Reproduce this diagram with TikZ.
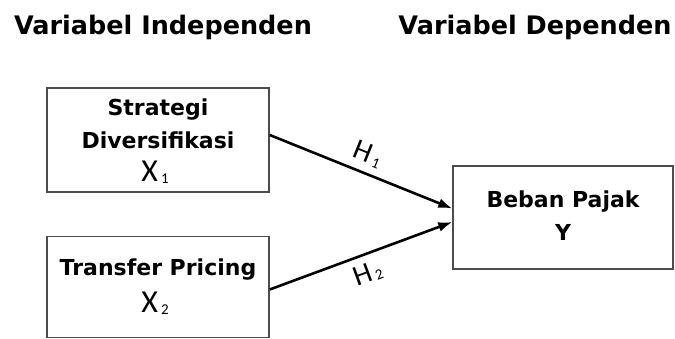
\documentclass[tikz,border=0pt]{standalone}
\usepackage{fontspec}
\setmainfont{DejaVu Sans}
\newfontfamily\lightfont{Carlito}
\usetikzlibrary{positioning, arrows.meta}
\newcommand{\subidx}[2]{#1\kern3pt\raisebox{-2pt}{\fontsize{15}{15}\selectfont #2}}
\tikzset{
    header/.style={font=\fontsize{25.5}{30}\selectfont\bfseries, anchor=center},
    varbox/.style={rectangle, draw=black!70, line width=1.5pt, fill=white, align=center, inner sep=0pt},
    varname/.style={font=\fontsize{22}{30}\selectfont\bfseries},
    sym/.style={font=\lightfont\fontsize{32}{32}\selectfont},
    arrow/.style={-{Latex[length=14pt, width=10pt]}, line width=2.6pt, black},
    hyp/.style={font=\lightfont\fontsize{29}{29}\selectfont, sloped}
}

\begin{document}
\begin{tikzpicture}[x=1pt, y=-1pt]
        \useasboundingbox (0,0) rectangle (675,338);

        % Headers
        \node[header] (HdrIndep) at (163,27) {Variabel Independen};
        \node[header] (HdrDep) at (535,27) {Variabel Dependen};

        % Independent variables
        \node[varbox, minimum width=222pt, minimum height=104pt] (Strat) at (158,140) {};
        \node[varname] at (158,110) {Strategi};
        \node[varname] at (158,140) {Diversifikasi};
        \node[sym] at (155,172) {\subidx{X}{1}};

        \node[varbox, minimum width=222pt, minimum height=101pt, below=43pt of Strat] (Transfer) {};
        \node[varname] at (158,270) {Transfer Pricing};
        \node[sym] at (155,303) {\subidx{X}{2}};

        % Dependent variable
        \node[varbox, minimum width=220pt, minimum height=103pt] (Beban) at (563,217.5) {};
        \node[varname] at (563,202) {Beban Pajak};
        \node[varname] at (563,232) {Y};

        % Connections
        \draw[arrow] ([yshift=5pt]Strat.east) -- node[hyp, above=4pt] {\subidx{H}{1}} ([yshift=9pt]Beban.west);
        \draw[arrow] ([yshift=-2.5pt]Transfer.east) -- node[hyp, below=4pt] {\subidx{H}{2}} ([yshift=-4.5pt]Beban.west);

    \end{tikzpicture}
\end{document}
